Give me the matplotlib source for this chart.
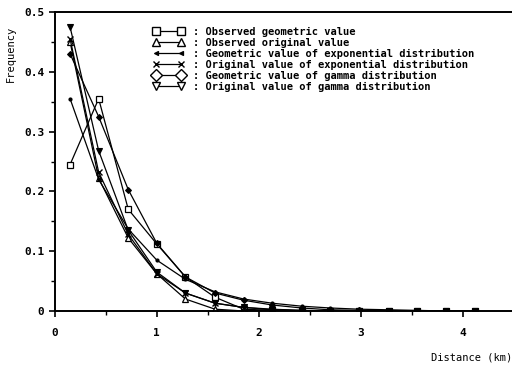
import matplotlib
matplotlib.use("Agg")
import matplotlib.pyplot as plt
from matplotlib.lines import Line2D

# distance class midpoints (km)
dist = [0.15, 0.43, 0.72, 1.0, 1.28, 1.57, 1.85, 2.13, 2.42, 2.7, 2.98, 3.27, 3.55, 3.83, 4.12]

obs_geo = [0.245, 0.355, 0.17, 0.112, 0.057, 0.023, 0.003, 0.001, 0.0, 0.0, 0.0, 0.0, 0.0, 0.0, 0.0]
obs_orig = [0.45, 0.222, 0.122, 0.062, 0.02, 0.003, 0.0, 0.002, 0.0, 0.0, 0.0, 0.0, 0.0, 0.0, 0.0]
geo_exp = [0.355, 0.22, 0.137, 0.085, 0.053, 0.032, 0.02, 0.013, 0.008, 0.005, 0.003, 0.002, 0.001, 0.0, 0.0]
orig_exp = [0.455, 0.232, 0.128, 0.062, 0.03, 0.013, 0.006, 0.003, 0.001, 0.0, 0.0, 0.0, 0.0, 0.0, 0.0]
geo_gam = [0.43, 0.325, 0.203, 0.113, 0.057, 0.03, 0.018, 0.01, 0.005, 0.002, 0.001, 0.0, 0.0, 0.0, 0.0]
orig_gam = [0.475, 0.268, 0.135, 0.065, 0.03, 0.013, 0.006, 0.002, 0.001, 0.0, 0.0, 0.0, 0.0, 0.0, 0.0]

labels = [": Observed geometric value",
          ": Observed original value",
          ": Geometric value of exponential distribution",
          ": Original value of exponential distribution",
          ": Geometric value of gamma distribution",
          ": Original value of gamma distribution"]

plt.rcParams['font.family'] = ['DejaVu Sans Mono']
plt.rcParams['font.weight'] = 'bold'

fig = plt.figure(figsize=(5.12, 3.65), dpi=100)
ax = fig.add_axes([0.107, 0.148, 0.893, 0.819])

lw = 0.9
ax.plot(dist, obs_geo, color='black', lw=lw, marker='s', ms=4, mfc='white', mew=0.9)
ax.plot(dist, obs_orig, color='black', lw=lw, marker='^', ms=4, mfc='white', mew=0.9)
ax.plot(dist, geo_exp, color='black', lw=lw, marker='.', ms=4)
ax.plot(dist, orig_exp, color='black', lw=lw, marker='x', ms=4, mew=1.0)
ax.plot(dist, geo_gam, color='black', lw=lw, marker='D', ms=3, mfc='black', mew=0.8)
ax.plot(dist, orig_gam, color='black', lw=lw, marker='v', ms=4, mfc='black', mew=0.8)

ax.set_xlim(0, 4.48)
ax.set_ylim(0, 0.5)
ax.set_xticks([0, 1, 2, 3, 4])
ax.set_xticks([0.5, 1.5, 2.5, 3.5], minor=True)
ax.set_yticks([0, 0.1, 0.2, 0.3, 0.4, 0.5])
ax.set_yticklabels(["0", "0.1", "0.2", "0.3", "0.4", "0.5"])
ax.set_yticks([0.05, 0.15, 0.25, 0.35, 0.45], minor=True)
ax.tick_params(axis='both', which='major', length=4, width=1.2, labelsize=8)
ax.tick_params(axis='both', which='minor', length=3, width=1.0)
ax.tick_params(axis='x', pad=8)

for s in ['left', 'bottom', 'top']:
    ax.spines[s].set_linewidth(1.4)
ax.spines['right'].set_visible(False)

ax.set_ylabel("Frequency", fontsize=7.5)
ax.yaxis.set_label_coords(-0.085, 0.86)
ax.set_xlabel("Distance (km)", fontsize=7.5, ha='right')
ax.xaxis.set_label_coords(1.0, -0.14)

# legend with paired markers
handles = [
    Line2D([], [], color='black', lw=lw, marker='s', ms=6, mfc='white', mew=1.0),
    Line2D([], [], color='black', lw=lw, marker='^', ms=6, mfc='white', mew=1.0),
    Line2D([], [], color='black', lw=lw, marker='<', ms=3, mfc='black', mew=0.8),
    Line2D([], [], color='black', lw=lw, marker='x', ms=5, mew=1.0),
    Line2D([], [], color='black', lw=lw, marker='D', ms=6, mfc='white', mew=1.0),
    Line2D([], [], color='black', lw=lw, marker='v', ms=6, mfc='white', mew=1.0),
]
ax.legend(handles, labels, loc='upper left', bbox_to_anchor=(0.205, 0.965),
          numpoints=2, handlelength=3.0, handletextpad=0.9, labelspacing=0.1,
          frameon=False, fontsize=7.5, borderaxespad=0.2, borderpad=0.2)

fig.savefig("out.png", dpi=100)
